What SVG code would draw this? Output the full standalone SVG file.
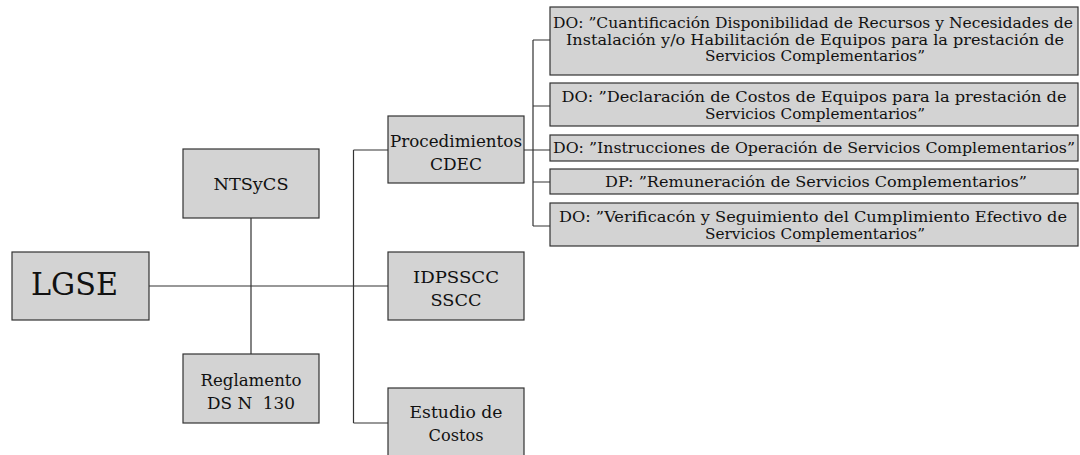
<svg xmlns="http://www.w3.org/2000/svg" width="1080" height="455" viewBox="0 0 1080 455">
<style>
.box{fill:#d3d3d3;stroke:#333;stroke-width:1.2}
.t{font-family:"DejaVu Serif","Liberation Serif","Times New Roman",serif;fill:#111;text-anchor:middle;white-space:pre}
.l{font-size:17px}
.r{font-size:14.5px}
.c{fill:none;stroke:#333;stroke-width:1.2}
</style>
<rect width="1080" height="455" fill="#fff"/>
<g id="connectors">
<path class="c" d="M149 286H388M251 218V354M353.5 150V423M353.5 150H388M353.5 423H388"/>
<path class="c" d="M524 150H550M533 40V226M533 40H550M533 106H550M533 182H550M533 226H550"/>
</g>
<g id="lgse"><rect class="box" x="12" y="252" width="137" height="68"/><text class="t" x="74.5" y="295" font-size="32" textLength="87" lengthAdjust="spacingAndGlyphs">LGSE</text></g>
<g id="ntsycs"><rect class="box" x="183" y="149" width="136" height="69"/><text class="t l" x="251" y="190" textLength="75" lengthAdjust="spacingAndGlyphs">NTSyCS</text></g>
<g id="reglamento"><rect class="box" x="183" y="354" width="136" height="69"/><text class="t l" x="251" y="386" textLength="101" lengthAdjust="spacingAndGlyphs">Reglamento</text><text class="t l" x="251" y="409" textLength="88" lengthAdjust="spacingAndGlyphs">DS N  130</text></g>
<g id="procedimientos"><rect class="box" x="388" y="116" width="136" height="67"/><text class="t l" x="456" y="147" textLength="132" lengthAdjust="spacingAndGlyphs">Procedimientos</text><text class="t l" x="456" y="170" textLength="52" lengthAdjust="spacingAndGlyphs">CDEC</text></g>
<g id="idpsscc"><rect class="box" x="388" y="252" width="136" height="68"/><text class="t l" x="456" y="283" textLength="86" lengthAdjust="spacingAndGlyphs">IDPSSCC</text><text class="t l" x="456" y="306" textLength="51" lengthAdjust="spacingAndGlyphs">SSCC</text></g>
<g id="estudio"><rect class="box" x="388" y="388" width="136" height="70"/><text class="t l" x="456" y="418" textLength="93" lengthAdjust="spacingAndGlyphs">Estudio de</text><text class="t l" x="456" y="441" textLength="55" lengthAdjust="spacingAndGlyphs">Costos</text></g>
<g id="do-cuantificacion"><rect class="box" x="550" y="7" width="528" height="68"/>
<text class="t r" x="813" y="28" textLength="520" lengthAdjust="spacingAndGlyphs">DO: ”Cuantificación Disponibilidad de Recursos y Necesidades de</text>
<text class="t r" x="815" y="44.5" textLength="498" lengthAdjust="spacingAndGlyphs">Instalación y/o Habilitación de Equipos para la prestación de</text>
<text class="t r" x="815" y="61" textLength="220" lengthAdjust="spacingAndGlyphs">Servicios Complementarios”</text></g>
<g id="do-declaracion"><rect class="box" x="550" y="83" width="528" height="43"/>
<text class="t r" x="814" y="102" textLength="505" lengthAdjust="spacingAndGlyphs">DO: ”Declaración de Costos de Equipos para la prestación de</text>
<text class="t r" x="815" y="118.5" textLength="220" lengthAdjust="spacingAndGlyphs">Servicios Complementarios”</text></g>
<g id="do-instrucciones"><rect class="box" x="550" y="135" width="528" height="26"/>
<text class="t r" x="814" y="153" textLength="522" lengthAdjust="spacingAndGlyphs">DO: ”Instrucciones de Operación de Servicios Complementarios”</text></g>
<g id="dp-remuneracion"><rect class="box" x="550" y="169" width="528" height="25"/>
<text class="t r" x="816" y="187" textLength="422" lengthAdjust="spacingAndGlyphs">DP: ”Remuneración de Servicios Complementarios”</text></g>
<g id="do-verificacion"><rect class="box" x="550" y="203" width="528" height="43"/>
<text class="t r" x="813" y="222" textLength="508" lengthAdjust="spacingAndGlyphs">DO: ”Verificacón y Seguimiento del Cumplimiento Efectivo de</text>
<text class="t r" x="815" y="238.5" textLength="220" lengthAdjust="spacingAndGlyphs">Servicios Complementarios”</text></g>
</svg>
